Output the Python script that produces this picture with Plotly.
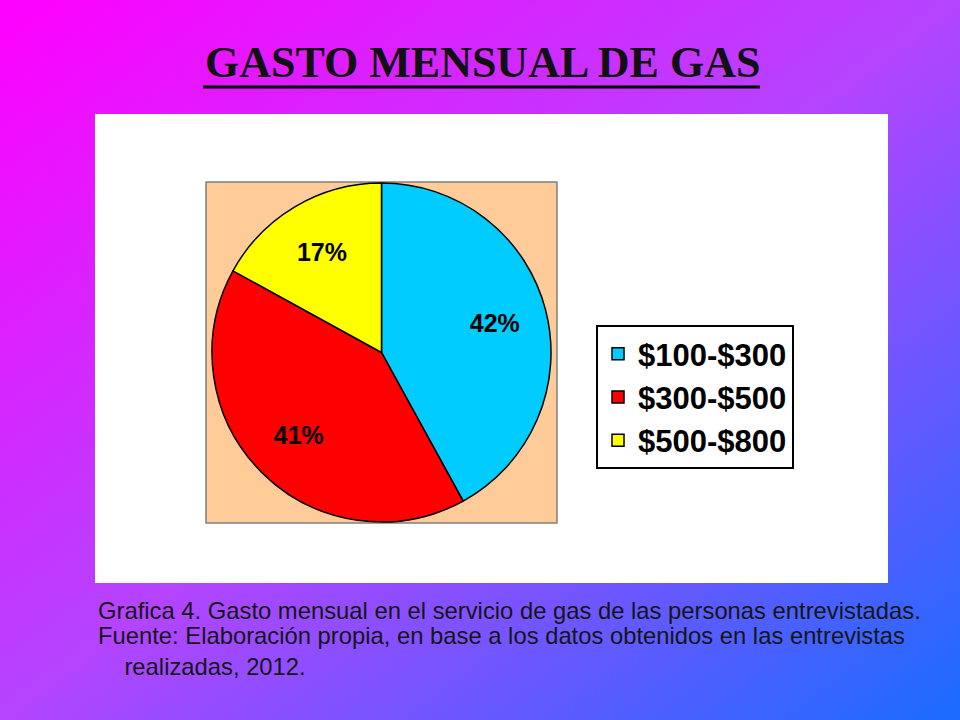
import base64
import plotly.graph_objects as go

# data
labels = ["$100-$300", "$300-$500", "$500-$800"]
values = [42, 41, 17]
colors = ["#00CCFF", "#FF0000", "#FFFF00"]

title_text = "GASTO MENSUAL DE GAS"
caption_title = "Grafica 4. Gasto mensual en el servicio de gas de las personas entrevistadas."
caption_source = ["Fuente: Elaboración propia, en base a los datos obtenidos en las entrevistas",
                  "realizadas, 2012."]

W, H = 960, 720


def px(x):
    return x / W


def py(y):
    return 1 - y / H


# slide background gradient (magenta -> blue)
svg = ("<svg xmlns='http://www.w3.org/2000/svg' width='960' height='720'>"
       "<defs><linearGradient id='g' x1='0' y1='0' x2='1' y2='1'>"
       "<stop offset='0' stop-color='#FF00FF'/>"
       "<stop offset='0.5' stop-color='#B444FF'/>"
       "<stop offset='1' stop-color='#1A6CFF'/>"
       "</linearGradient></defs>"
       "<rect width='960' height='720' fill='url(#g)'/></svg>")
bg_src = "data:image/svg+xml;base64," + base64.b64encode(svg.encode()).decode()

pie_domain = dict(x=[px(207), px(556)], y=[py(522), py(183)])

fig = go.Figure()
fig.add_trace(go.Pie(
    labels=labels, values=values, sort=False, direction="clockwise",
    marker=dict(colors=colors, line=dict(color="black", width=1.5)),
    textinfo="none", domain=pie_domain, showlegend=True,
))
# transparent ring on top, only to push the percent labels outwards
fig.add_trace(go.Pie(
    labels=labels, values=values, sort=False, direction="clockwise", hole=0.38,
    marker=dict(colors=["rgba(0,0,0,0)"] * 3, line=dict(width=0)),
    textinfo="percent", textposition="inside", insidetextorientation="horizontal",
    textfont=dict(family="Liberation Sans", size=25, color="black", weight="bold"),
    domain=pie_domain, showlegend=False, hoverinfo="skip",
))

shapes = [
    # white chart panel
    dict(type="rect", xref="paper", yref="paper", x0=px(95), x1=px(888),
         y0=py(583), y1=py(114), fillcolor="white", line=dict(width=0), layer="below"),
    # peach plot area
    dict(type="rect", xref="paper", yref="paper", x0=px(206), x1=px(557),
         y0=py(523), y1=py(182), fillcolor="#FFCC99",
         line=dict(color="#808080", width=1.5), layer="below"),
    # title underline
    dict(type="line", xref="paper", yref="paper", x0=px(203), x1=px(760),
         y0=py(87), y1=py(87), line=dict(color="black", width=3)),
]

caption_font = dict(family="Liberation Sans", size=23.8, color="#151515")
annotations = [
    dict(text="<b>" + title_text + "</b>", x=px(482), y=py(62), xref="paper", yref="paper",
         xanchor="center", yanchor="middle", showarrow=False,
         font=dict(family="Liberation Serif", size=44, color="#111111")),
    dict(text=caption_title, x=px(96), y=py(610), xref="paper", yref="paper",
         xanchor="left", yanchor="middle", showarrow=False, font=caption_font),
    # source note, second line hanging-indented
    dict(text=caption_source[0] + "<br>" + "&nbsp;" * 4 + caption_source[1],
         x=px(96), y=py(651), xref="paper", yref="paper", align="left",
         xanchor="left", yanchor="middle", showarrow=False, font=caption_font),
]

fig.update_layout(
    width=W, height=H, margin=dict(l=0, r=0, t=0, b=0),
    paper_bgcolor="#B444FF",
    images=[dict(source=bg_src, xref="paper", yref="paper", x=0, y=1, sizex=1, sizey=1,
                 sizing="stretch", layer="below")],
    shapes=shapes, annotations=annotations,
    legend=dict(x=px(596), y=py(325), xanchor="left", yanchor="top",
                bgcolor="white", bordercolor="black", borderwidth=2,
                font=dict(family="Liberation Sans", size=31, color="black", weight="bold"),
                tracegroupgap=0, itemwidth=30),
)

fig.write_html("out.html", config={"displayModeBar": False},
               post_script="document.body.style.margin='0';")
